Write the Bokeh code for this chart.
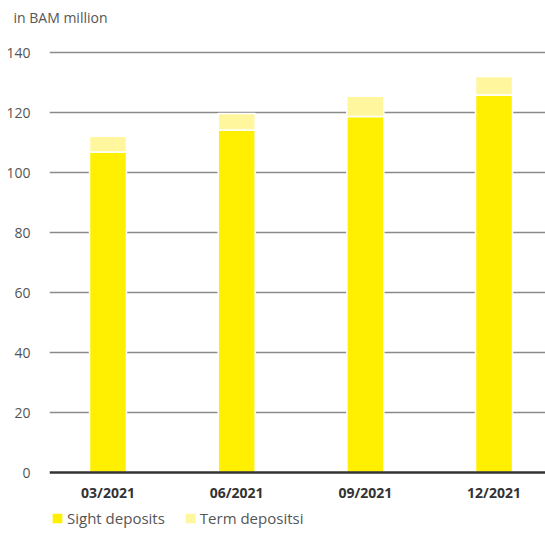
from bokeh.plotting import figure
from bokeh.models import Range1d, FixedTicker, Legend, LegendItem, ColumnDataSource
from bokeh.embed import file_html
from bokeh.resources import INLINE

categories = ["03/2021", "06/2021", "09/2021", "12/2021"]
sight = [106.8, 114.2, 118.7, 125.8]
term = [5.3, 5.5, 6.7, 6.2]
y_ticks = [0, 20, 40, 60, 80, 100, 120, 140]

FONT = "Open Sans"
idx = list(range(len(categories)))
src = ColumnDataSource(dict(x=idx, sight=sight, term=term))

# frame: 496 x 500 px, 3 px per BAM million; y=0 sits 60 px above frame bottom
p = figure(frame_width=496, frame_height=500, output_backend="svg", toolbar_location=None,
           x_range=Range1d(-0.4547, 3.400), y_range=Range1d(-20, 146.667),
           min_border_left=49, min_border_right=0, min_border_top=32, min_border_bottom=0)
p.outline_line_color = None
p.background_fill_color = "white"

rs = p.vbar_stack(["sight", "term"], x="x", width=0.2876, source=src,
                  color=["#FFEF00", "#FFF69E"], line_color="white", line_width=1.5)

p.title.text = "in BAM million"
p.title.text_font = FONT
p.title.text_font_size = "14px"
p.title.text_font_style = "normal"
p.title.text_color = "#555555"
p.title.align = "left"
p.title.offset = -36
p.title.standoff = 11

p.xgrid.visible = False
p.ygrid.ticker = FixedTicker(ticks=y_ticks[1:])
p.ygrid.grid_line_color = "#8a8a8a"
p.ygrid.grid_line_width = 1.5

p.yaxis.ticker = FixedTicker(ticks=y_ticks)
p.yaxis.axis_line_color = None
p.yaxis.major_tick_line_color = None
p.yaxis.minor_tick_line_color = None
p.yaxis.major_label_text_font = FONT
p.yaxis.major_label_text_font_size = "14px"
p.yaxis.major_label_text_color = "#555555"
p.yaxis.major_label_standoff = 13

p.xaxis.fixed_location = 0
p.xaxis.ticker = FixedTicker(ticks=idx)
p.xaxis.major_label_overrides = {i: c for i, c in zip(idx, categories)}
p.xaxis.axis_line_color = "#333333"
p.xaxis.axis_line_width = 2.5
p.xaxis.major_tick_line_color = None
p.xaxis.minor_tick_line_color = None
p.xaxis.major_label_text_font = FONT
p.xaxis.major_label_text_font_size = "14px"
p.xaxis.major_label_text_font_style = "bold"
p.xaxis.major_label_text_color = "#333333"
p.xaxis.major_label_standoff = 4

legend = Legend(items=[LegendItem(label="Sight deposits", renderers=[rs[0]]),
                       LegendItem(label="Term depositsi", renderers=[rs[1]])],
                orientation="horizontal", location=(1, 4))
legend.border_line_color = None
legend.background_fill_alpha = 0
legend.padding = 0
legend.margin = 0
legend.spacing = 18
legend.glyph_width = 14
legend.glyph_height = 14
legend.label_height = 14
legend.label_standoff = 3
legend.label_text_font = FONT
legend.label_text_font_size = "15px"
legend.label_text_color = "#555555"
p.add_layout(legend, "center")

open("out.html", "w").write(file_html(p, INLINE))
